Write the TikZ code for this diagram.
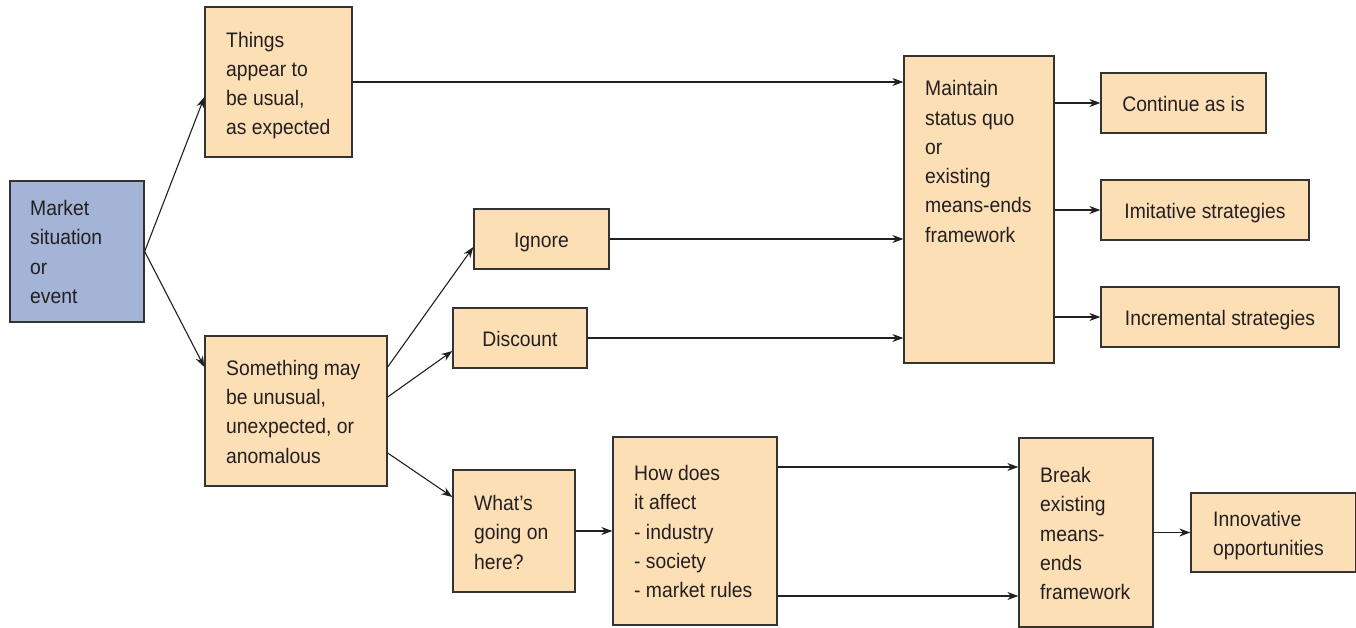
\documentclass[tikz,border=0pt]{standalone}
\usepackage{fontspec}
\setmainfont{Liberation Sans}[FakeStretch=0.92]
\usetikzlibrary{arrows.meta}
\definecolor{peach}{HTML}{FDDFB6}
\definecolor{slate}{HTML}{A3B4D7}
\definecolor{edge}{HTML}{333333}
\definecolor{ink}{HTML}{231F20}
\tikzset{
  box/.style={draw=edge, line width=1.3pt, fill=peach, rectangle, inner sep=0pt, text=ink,
    font=\fontsize{21}{29.3}\selectfont},
  lbl/.style={inner sep=0pt, align=left, text=ink, font=\fontsize{21}{29.3}\selectfont},
  one/.style={text height=20pt, text depth=3pt},
  arr/.style={draw=ink, line width=1.1pt, -{Stealth[length=11pt,width=8pt]}},
}
% [box style], name, x1, y1, x2, y2, text x, last baseline y, text
\newcommand{\lbx}[9][]{%
  \node[box, #1, minimum width=#5-#3, minimum height=#6-#4] (#2) at ({(#3+#5)/2},{(#4+#6)/2}) {};
  \node[lbl, anchor=base west] (#2-t) at (#7,#8) {#9};}
\newcommand{\cbx}[6]{% centered single line
  \node[box, one, minimum width=#4-#2, minimum height=#5-#3, align=center] (#1) at ({(#2+#4)/2},{(#3+#5)/2}) {#6};}
\begin{document}
\begin{tikzpicture}[x=1pt,y=-1pt]
\useasboundingbox (0,0) rectangle (1356,628);
\lbx[fill=slate]{market}{10}{181}{144}{322}{30}{303.4}{Market\\situation\\or\\event}
\lbx{things}{205}{7}{352}{157}{226}{135}{Things\\appear to\\be usual,\\as expected}
\lbx{something}{205}{336}{387}{486}{226}{463}{Something may\\be unusual,\\unexpected, or\\anomalous}
\cbx{ignore}{474}{209}{609}{269}{Ignore}
\cbx{discount}{453}{308}{587}{368}{Discount}
\lbx{whats}{453}{470}{575}{592}{474}{569}{What's\\going on\\here?}
\lbx{how}{613}{437}{777}{625}{634}{597.7}{How does\\it affect\\- industry\\- society\\- market rules}
\lbx{maintain}{904}{56}{1054}{363}{925}{242.3}{Maintain\\status quo\\or\\existing\\means-ends\\framework}
\cbx{continue}{1101}{73}{1266}{133}{Continue as is}
\cbx{imitative}{1101}{180}{1309}{240}{Imitative strategies}
\cbx{incremental}{1101}{287}{1339}{347}{Incremental strategies}
\lbx{break}{1019}{438}{1153}{627}{1040}{599.7}{Break\\existing\\means-\\ends\\framework}
\lbx{innov}{1191}{493}{1356}{572}{1213}{555.8}{Innovative\\opportunities}

\coordinate (mr) at (market.east);
\draw[arr] (mr) -- (things.west |- 0,97);
\draw[arr] (mr) -- (something.west |- 0,367);
\draw[arr] (things.east |- 0,82) -- (maintain.west |- 0,82);
\draw[arr] (ignore.east) -- (maintain.west |- ignore.east);
\draw[arr] (discount.east) -- (maintain.west |- discount.east);
\draw[arr] (something.east |- 0,367) -- (ignore.west |- 0,247);
\draw[arr] (something.east |- 0,397) -- (discount.west |- 0,351);
\draw[arr] (something.east |- 0,453) -- (whats.west |- 0,497);
\draw[arr] (whats.east) -- (how.west);
\draw[arr] (how.east |- 0,467) -- (break.west |- 0,467);
\draw[arr] (how.east |- 0,596) -- (break.west |- 0,596);
\draw[arr] (maintain.east |- continue.west) -- (continue.west);
\draw[arr] (maintain.east |- imitative.west) -- (imitative.west);
\draw[arr] (maintain.east |- incremental.west) -- (incremental.west);
\draw[arr] (break.east |- innov.west) -- (innov.west);
\end{tikzpicture}
\end{document}
